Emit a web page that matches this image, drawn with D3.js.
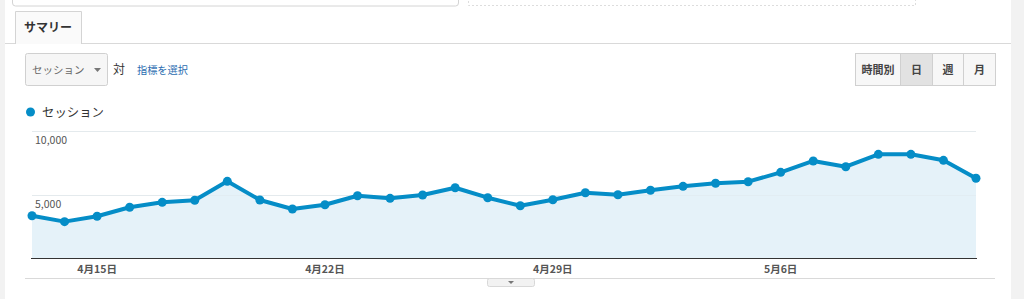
<!DOCTYPE html>
<html><head><meta charset="utf-8">
<script src="https://cdnjs.cloudflare.com/ajax/libs/d3/7.8.5/d3.min.js"></script>
<style>
html,body{margin:0;padding:0;background:#fff;overflow:hidden}
svg{display:block}
text{font-family:"Noto Sans CJK JP","Liberation Sans",Arial,sans-serif}
</style></head>
<body><svg id="c" width="1024" height="299"></svg>
<script>
const dates = ["4/13","4/14","4/15","4/16","4/17","4/18","4/19","4/20","4/21","4/22","4/23","4/24","4/25","4/26","4/27","4/28","4/29","4/30","5/1","5/2","5/3","5/4","5/5","5/6","5/7","5/8","5/9","5/10","5/11","5/12"];
const sessions = [3340,2880,3300,4000,4390,4550,6030,4570,3870,4200,4900,4700,4960,5530,4750,4120,4590,5140,4980,5330,5640,5880,6000,6730,7620,7170,8140,8140,7670,6270];
const yTicks = [5000,10000];
const xTickDates = ["4/15","4/22","4/29","5/6"];
const xTickLabels = ["4月15日","4月22日","4月29日","5月6日"];
const seriesName = "セッション";
const periodButtons = ["時間別","日","週","月"];

const svg = d3.select("#c");
const blue = "#058dc7";

// side strips
svg.append("rect").attr("x",0).attr("y",0).attr("width",5).attr("height",299).attr("fill","#f2f2f2");
svg.append("rect").attr("x",1011).attr("y",0).attr("width",13).attr("height",299).attr("fill","#f2f2f2");

// top boxes
svg.append("rect").attr("x",12.5).attr("y",-10).attr("width",446).attr("height",16).attr("rx",3)
  .attr("fill","#fff").attr("stroke","#d4d4d4");
svg.append("rect").attr("x",468.5).attr("y",-10).attr("width",447).attr("height",15.5)
  .attr("fill","none").attr("stroke","#ddd").attr("stroke-dasharray","2,2");

// tab
svg.append("line").attr("x1",5).attr("x2",1011).attr("y1",43.5).attr("y2",43.5).attr("stroke","#d9d9d9");
svg.append("path").attr("d","M15.5,44 V11.5 H81.5 V44").attr("fill","#fafafa").attr("stroke","#d4d4d4");
svg.append("text").attr("x",24).attr("y",32).attr("font-size",12).attr("font-weight","bold").attr("fill","#333").text("サマリー");

// dropdown
svg.append("rect").attr("x",25.5).attr("y",53.5).attr("width",82).attr("height",32).attr("rx",2)
  .attr("fill","#f6f6f6").attr("stroke","#d0d0d0");
svg.append("text").attr("x",32).attr("y",74).attr("font-size",10.5).attr("fill","#666").text(seriesName);
svg.append("path").attr("d","M94,68 h7 l-3.5,4 z").attr("fill","#777");
svg.append("text").attr("x",113).attr("y",74).attr("font-size",12).attr("fill","#333").text("対");
svg.append("text").attr("x",137).attr("y",74).attr("font-size",10.2).attr("fill","#2a6cb0").text("指標を選択");

// period buttons
const bx = [855.5,900.5,932.5,963.5,995.5];
const bg = svg.append("g");
periodButtons.forEach((t,i)=>{
  bg.append("rect").attr("x",bx[i]).attr("y",53.5).attr("width",bx[i+1]-bx[i]).attr("height",32)
    .attr("fill", i===1?"#e2e2e2":"#f7f7f7").attr("stroke","#d0d0d0");
  bg.append("text").attr("x",(bx[i]+bx[i+1])/2).attr("y",74).attr("text-anchor","middle")
    .attr("font-size",11).attr("font-weight","bold").attr("fill","#444").text(t);
});

// legend
svg.append("circle").attr("cx",30.5).attr("cy",112).attr("r",4.5).attr("fill",blue);
svg.append("text").attr("x",42).attr("y",117).attr("font-size",12.4).attr("fill","#333").text(seriesName);

// chart
const x = d3.scalePoint().domain(dates).range([32,976]);
const y = d3.scaleLinear().domain([0,10000]).range([258.5,130.5]);

const grid = svg.append("g");
grid.selectAll("line").data(yTicks).join("line")
  .attr("x1",32).attr("x2",976).attr("y1",d=>Math.round(y(d))+0.5).attr("y2",d=>Math.round(y(d))+0.5)
  .attr("stroke","#ececec");

svg.append("path").datum(sessions)
  .attr("d", d3.area().x((d,i)=>x(dates[i])).y0(y(0)).y1(d=>y(d)))
  .attr("fill","#e5f2f9");

svg.append("g").selectAll("line").data(yTicks).join("line")
  .attr("x1",32).attr("x2",976).attr("y1",d=>Math.round(y(d))+0.5).attr("y2",d=>Math.round(y(d))+0.5)
  .attr("stroke","#dfe9ee").attr("stroke-opacity",0.6);

const yLab = svg.append("g");
yLab.selectAll("text").data(yTicks).join("text")
  .attr("x",35).attr("y",d=>y(d)+13)
  .attr("font-family","'Liberation Sans',Arial,sans-serif")
  .attr("font-size",10.5).attr("fill","#555").text(d=>d3.format(",")(d));

// baseline
svg.append("line").attr("x1",31).attr("x2",977).attr("y1",258.5).attr("y2",258.5).attr("stroke","#333").attr("stroke-width",1);

svg.append("path").datum(sessions)
  .attr("d", d3.line().x((d,i)=>x(dates[i])).y(d=>y(d)))
  .attr("fill","none").attr("stroke",blue).attr("stroke-width",4).attr("stroke-linejoin","round");

svg.append("g").selectAll("circle").data(sessions).join("circle")
  .attr("cx",(d,i)=>x(dates[i])).attr("cy",d=>y(d)).attr("r",4.5).attr("fill",blue);

// x axis labels
const xa = svg.append("g");
xa.selectAll("text").data(xTickDates).join("text")
  .attr("x",d=>x(d)).attr("y",273).attr("text-anchor","middle")
  .attr("font-size",10.5).attr("font-weight","bold").attr("fill","#555")
  .text((d,i)=>xTickLabels[i]);

// bottom line and toggle
svg.append("line").attr("x1",25).attr("x2",995).attr("y1",278.5).attr("y2",278.5).attr("stroke","#d9d9d9");
svg.append("rect").attr("x",487.5).attr("y",278.5).attr("width",47).attr("height",8).attr("rx",2)
  .attr("fill","#f2f2f2").attr("stroke","#d8d8d8");
svg.append("path").attr("d","M508,281 h6 l-3,3 z").attr("fill","#777");
</script>
</body></html>
